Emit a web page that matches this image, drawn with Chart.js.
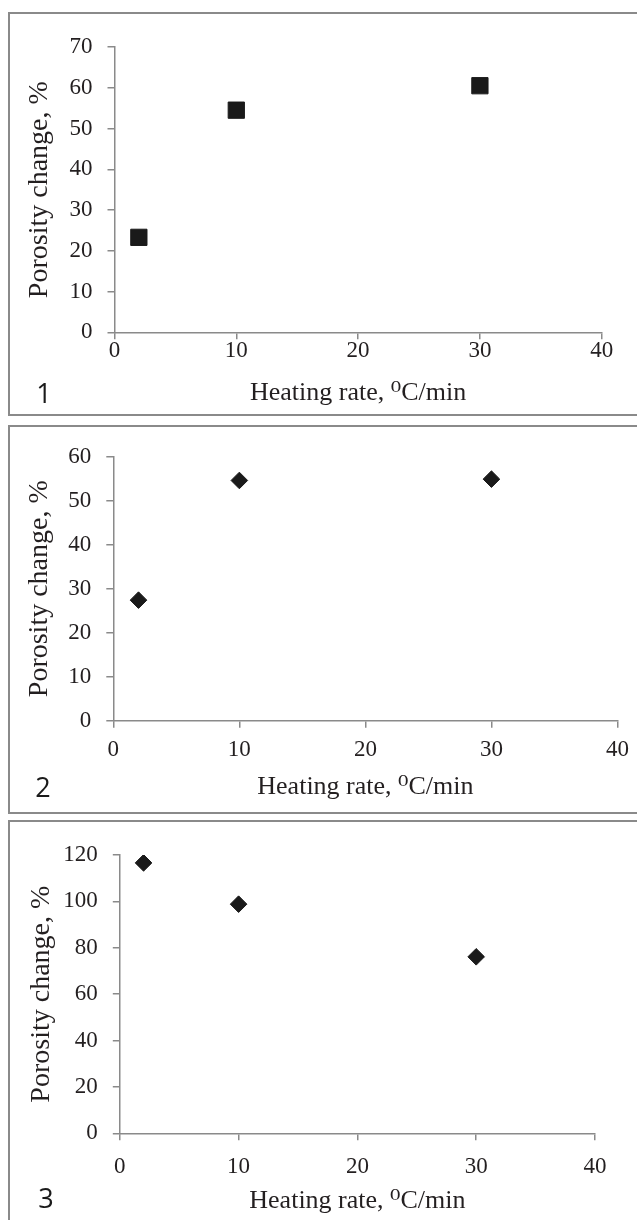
<!DOCTYPE html>
<html>
<head>
<meta charset="utf-8">
<script src="https://cdn.jsdelivr.net/npm/chart.js@4.4.1/dist/chart.umd.min.js"></script>
<style>
  body { margin: 0; width: 637px; height: 1220px; overflow: hidden; background: #fff; position: relative; }
  .box { position: absolute; left: 8px; width: 700px; border: 2px solid #8a8a8a; border-right: none; }
  canvas { position: absolute; left: 0; }
  .num { position: absolute; width: 30px; text-align: center; font: 27px/27px "Open Sans", sans-serif; color: #1a1a1a; }
</style>
</head>
<body>
<div class="box" style="top:12px;height:400px"></div>
<div class="box" style="top:425px;height:385px"></div>
<div class="box" style="top:820px;height:420px"></div>

<canvas id="chart1" width="637" height="420" style="top:0px"></canvas>
<canvas id="chart2" width="637" height="400" style="top:420px"></canvas>
<canvas id="chart3" width="637" height="405" style="top:815px"></canvas>

<div class="num" style="left:29px;top:379px">1</div>
<div class="num" style="left:28px;top:773px">2</div>
<div class="num" style="left:31px;top:1184px">3</div>

<script>
// heating rate (°C/min) and porosity change (%) for the three samples
const heatingRates = [2, 10, 30];
const porosity1 = [23.3, 54.5, 60.5];
const porosity2 = [27.4, 54.6, 54.9];
const porosity3 = [116.6, 98.8, 76.1];

const xMin = 0, xMax = 40, xStep = 10;
const yMax = [70, 60, 120];
const yStep = [10, 10, 20];

const xTitle = 'Heating rate, \u2070C/min';
const yTitle = 'Porosity change, %';

const axisGray = '#8a8a8a';
const inkColor = '#231f20';
const serif = '"Liberation Serif", "DejaVu Serif", "Times New Roman", serif';

// layout of each panel inside its canvas
const panels = [
  { id: 'chart1', values: porosity1, marker: 'rect', radius: 11.5,
    left: 114.5, right: 35.3, top: 47, axisY: 332.3, titleGap: 61, yTitleX: 40, xTickPad: -2.5 },
  { id: 'chart2', values: porosity2, marker: 'rectRot', radius: 8.3,
    left: 113.3, right: 17, top: 36.7, axisY: 300.7, titleGap: 66.8, yTitleX: 40, xTickPad: 8 },
  { id: 'chart3', values: porosity3, marker: 'rectRot', radius: 8.3,
    left: 119.8, right: 42, top: 40, axisY: 318.3, titleGap: 68.2, yTitleX: 42, xTickPad: 13 }
];

const tickFont = { family: serif, size: 23 };
const xTitleFont = { family: serif, size: 26, lineHeight: 1.2 };
const yTitleFont = { family: serif, size: 28, lineHeight: 1.2 };

panels.forEach((p, i) => {
  const canvas = document.getElementById(p.id);
  const xAxisHeight = p.titleGap + xTitleFont.size * xTitleFont.lineHeight / 2;
  const bottomPad = canvas.height - p.axisY - xAxisHeight;

  new Chart(canvas.getContext('2d'), {
    type: 'scatter',
    data: {
      datasets: [{
        data: heatingRates.map((x, k) => ({ x: x, y: p.values[k] })),
        pointStyle: p.marker,
        pointRadius: p.radius,
        pointHoverRadius: p.radius,
        backgroundColor: '#1a1a1a',
        borderColor: '#1a1a1a',
        borderWidth: 1,
        showLine: false
      }]
    },
    options: {
      responsive: false,
      maintainAspectRatio: false,
      animation: false,
      events: [],
      layout: {
        padding: { left: 0, right: p.right, top: p.top, bottom: bottomPad }
      },
      plugins: {
        legend: { display: false },
        tooltip: { enabled: false }
      },
      scales: {
        x: {
          type: 'linear',
          min: xMin,
          max: xMax,
          ticks: { stepSize: xStep, color: inkColor, font: tickFont, padding: p.xTickPad, maxRotation: 0 },
          grid: { drawOnChartArea: false, drawTicks: true, tickLength: 7, color: axisGray, lineWidth: 1.5 },
          border: { display: true, color: axisGray, width: 1.5 },
          title: { display: true, text: xTitle, color: inkColor, font: xTitleFont, padding: { top: 0, bottom: 0 } },
          afterFit: (scale) => { scale.height = xAxisHeight; }
        },
        y: {
          type: 'linear',
          min: 0,
          max: yMax[i],
          ticks: { stepSize: yStep[i], color: inkColor, font: tickFont, padding: 15 },
          grid: { drawOnChartArea: false, drawTicks: true, tickLength: 7, color: axisGray, lineWidth: 1.5 },
          border: { display: true, color: axisGray, width: 1.5 },
          title: {
            display: true, text: yTitle, color: inkColor, font: yTitleFont,
            padding: { top: p.yTitleX - yTitleFont.size * yTitleFont.lineHeight / 2, bottom: 0 }
          },
          afterFit: (scale) => { scale.width = p.left; }
        }
      }
    }
  });
});
</script>
</body>
</html>
